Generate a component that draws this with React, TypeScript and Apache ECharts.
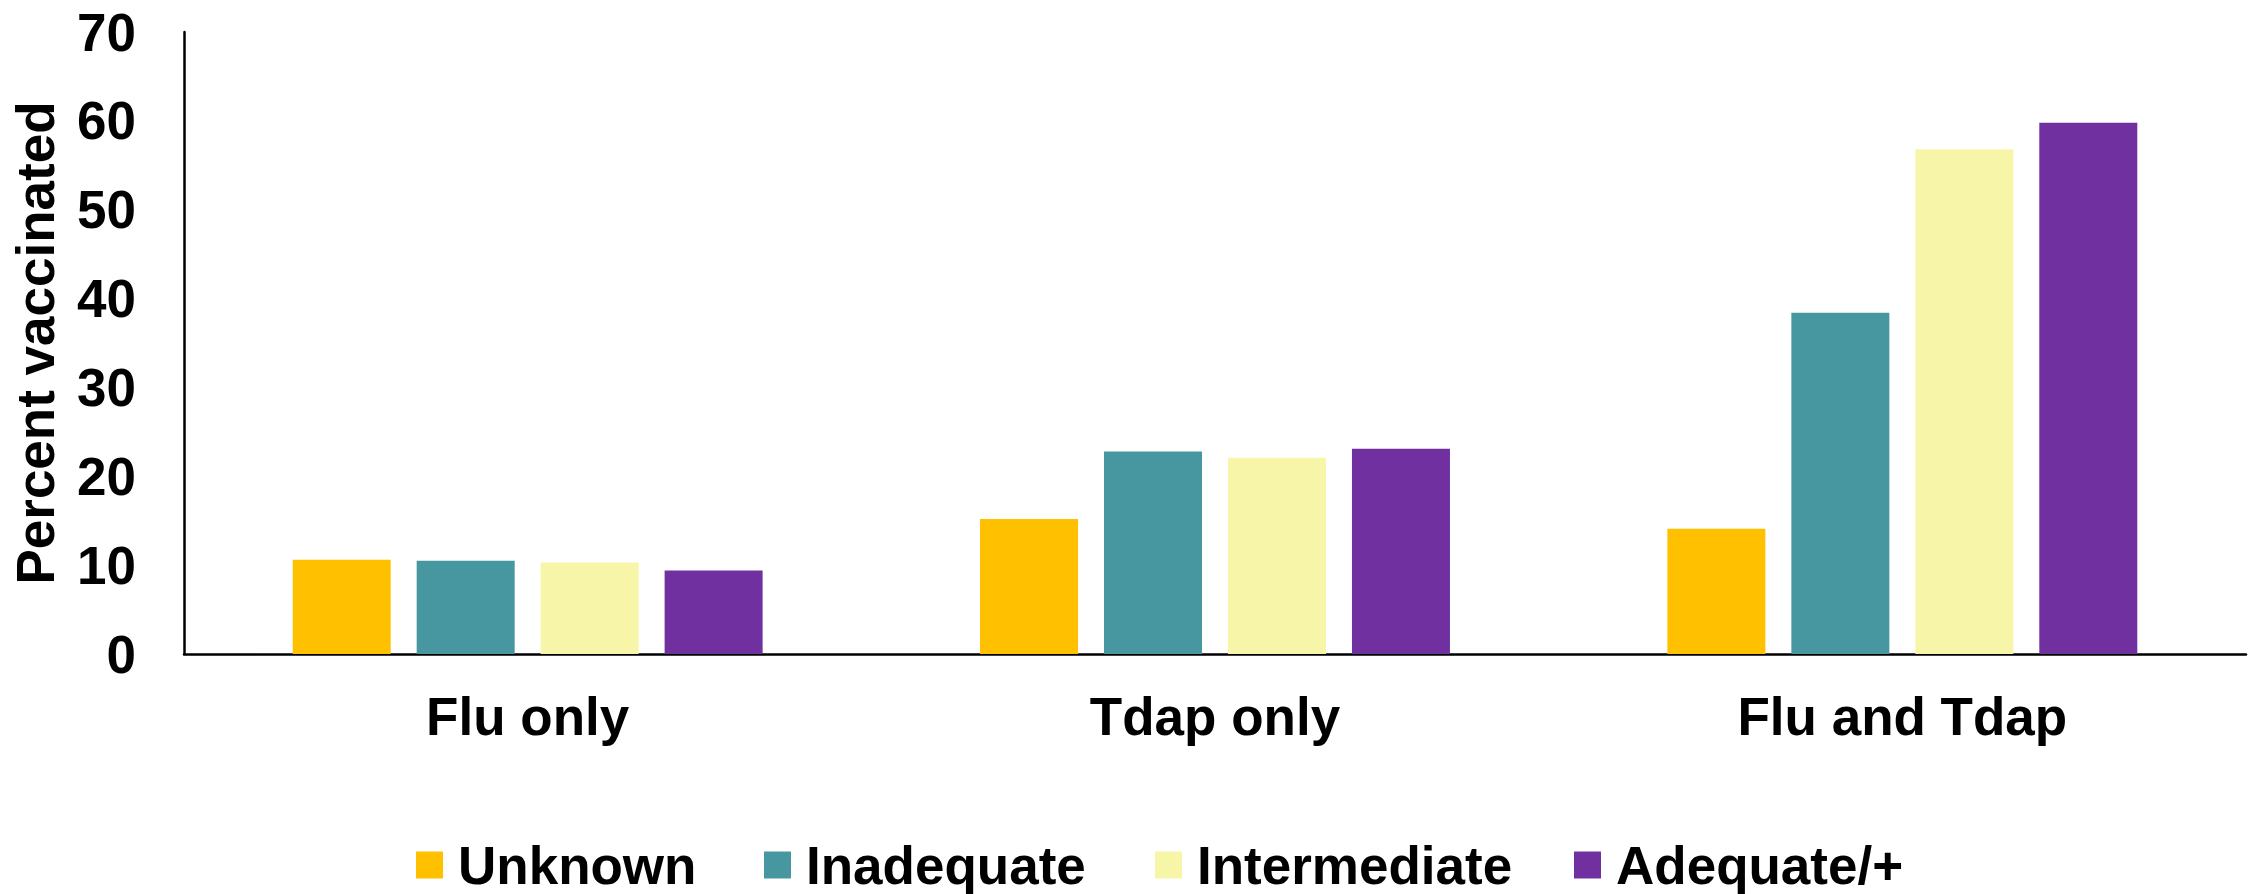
import React, { useEffect, useRef } from "react";
import * as echarts from "echarts";

const categories = ["Flu only", "Tdap only", "Flu and Tdap"];
const seriesNames = ["Unknown", "Inadequate", "Intermediate", "Adequate/+"];
const unknownValues = [10.6, 15.2, 14.1];
const inadequateValues = [10.5, 22.8, 38.4];
const intermediateValues = [10.3, 22.1, 56.8];
const adequateValues = [9.4, 23.1, 59.8];
const yTicks = { min: 0, max: 70, interval: 10 };

const colors = ["#FFC000", "#4797A0", "#F7F6A8", "#7030A0"];
const legendLefts = [416, 764, 1155, 1574];
const FONT = "'Liberation Sans', Arial, sans-serif";

export default function App() {
  const ref = useRef<HTMLDivElement>(null);
  useEffect(() => {
    if (!ref.current) return;
    const chart = echarts.init(ref.current, undefined, { renderer: "svg" });
    const values = [unknownValues, inadequateValues, intermediateValues, adequateValues];
    const textBase = { fontFamily: FONT, fontWeight: "bold" as const, fontSize: 53, color: "#000" };
    chart.setOption({
      animation: false,
      backgroundColor: "#fff",
      textStyle: { fontFamily: FONT },
      grid: { left: 184, top: 32, right: 9, bottom: 240, containLabel: false },
      legend: seriesNames.map((n, i) => ({
        data: [n],
        left: legendLefts[i],
        top: 838,
        icon: "rect",
        itemWidth: 27,
        itemHeight: 27,
        padding: 0,
        textStyle: { ...textBase, lineHeight: 54, padding: [0, 0, 0, 10] },
      })),
      xAxis: {
        type: "category",
        data: categories,
        axisLine: { show: true, lineStyle: { color: "#000", width: 2.5 } },
        axisTick: { show: false },
        axisLabel: { ...textBase, margin: 36 },
        splitLine: { show: false },
      },
      yAxis: {
        type: "value",
        min: yTicks.min,
        max: yTicks.max,
        interval: yTicks.interval,
        name: "Percent vaccinated",
        nameLocation: "middle",
        nameGap: 122,
        nameTextStyle: { ...textBase },
        axisLine: { show: true, lineStyle: { color: "#000", width: 2.5 } },
        axisTick: { show: false },
        axisLabel: { ...textBase, margin: 48 },
        splitLine: { show: false },
      },
      series: seriesNames.map((n, i) => ({
        name: n,
        type: "bar",
        data: values[i],
        barWidth: 98,
        barGap: "26.5%",
        itemStyle: { color: colors[i] },
      })),
    });
    return () => chart.dispose();
  }, []);
  return (
    <div
      ref={ref}
      style={{ position: "fixed", left: 0, top: 0, width: 2255, height: 894, background: "#fff" }}
    />
  );
}
